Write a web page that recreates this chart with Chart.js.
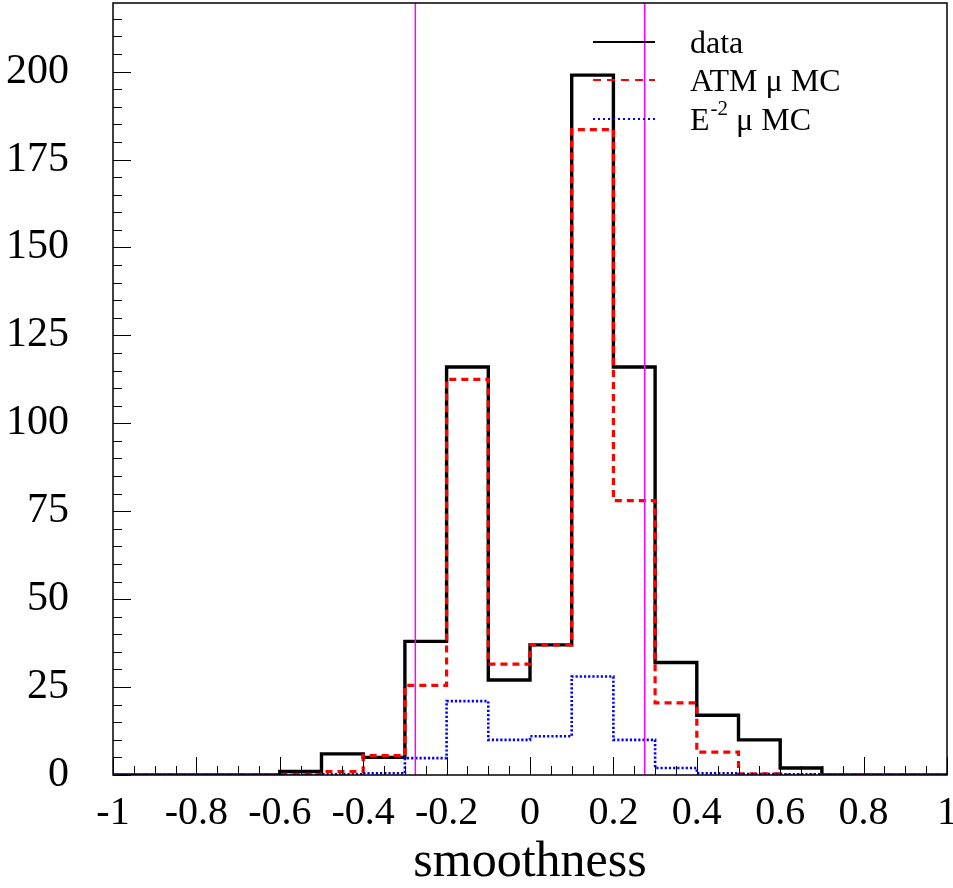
<!DOCTYPE html>
<html>
<head>
<meta charset="utf-8">
<script src="https://cdn.jsdelivr.net/npm/chart.js@4.4.1/dist/chart.umd.min.js"></script>
<style>
  html, body { margin: 0; padding: 0; background: #fff; }
  #wrap { width: 953px; height: 888px; }
</style>
</head>
<body>
<div id="wrap"><canvas id="histChart" width="953" height="888"></canvas></div>
<script>
// lower edges of the 20 bins (width 0.1)
var binLow = [-1, -0.9, -0.8, -0.7, -0.6, -0.5, -0.4, -0.3, -0.2, -0.1,
              0, 0.1, 0.2, 0.3, 0.4, 0.5, 0.6, 0.7, 0.8, 0.9];
var binWidth = 0.1;
var dataCounts = [0, 0, 0, 0, 1, 6, 5, 38, 116, 27, 37, 199, 116, 32, 17, 10, 2, 0, 0, 0];
var atmMC      = [0, 0, 0, 0, 0.2, 1, 5.5, 25.5, 112.5, 31.5, 37, 183.5, 78, 20.5, 6.5, 0.3, 0, 0, 0, 0];
var e2MC       = [0, 0, 0, 0, 0, 0.2, 0.5, 4.8, 21, 10, 11, 28, 10, 2, 0.5, 0.3, 0.2, 0, 0, 0];
var cutValues = [-0.275, 0.275];
var yTickStep = 25;
var xTickStep = 0.2;
var legendNames = ['data', 'ATM \u03bc MC', 'E\u207b\u00b2 \u03bc MC'];

var X_MIN = -1, X_MAX = 1, Y_MIN = 0, Y_MAX = 219.5;
var SERIF = "'Liberation Serif', 'DejaVu Serif', serif";

function histPoints(vals) {
    var pts = [];
    for (var i = 0; i < binLow.length; i++) pts.push({ x: binLow[i], y: vals[i] });
    pts.push({ x: binLow[binLow.length - 1] + binWidth, y: vals[vals.length - 1] });
    return pts;
}

function cutLine(v) {
    return {
        data: [{ x: v, y: Y_MIN }, { x: v, y: Y_MAX }],
        borderColor: '#ff00ff',
        borderWidth: 1.5,
        pointRadius: 0,
        fill: false
    };
}

function noPad(s) {
    s.paddingTop = 0;
    s.paddingBottom = 0;
    s.paddingLeft = 0;
    s.paddingRight = 0;
}

// frame, inward ticks (ROOT style) and legend
var frameAndLegend = {
    id: 'frameAndLegend',
    afterDraw: function (chart) {
        var ctx = chart.ctx;
        var a = chart.chartArea;
        var xs = chart.scales.x, ys = chart.scales.y;
        ctx.save();

        // ticks
        ctx.strokeStyle = '#000';
        ctx.lineWidth = 1;
        ctx.beginPath();
        for (var k = 0; k <= 40; k++) {
            var xv = X_MIN + k * 0.05;
            var px = Math.round(xs.getPixelForValue(xv)) + 0.5;
            var len = (k % 4 === 0) ? 18 : 9;
            ctx.moveTo(px, a.bottom);
            ctx.lineTo(px, a.bottom - len);
        }
        for (var j = 0; j * 5 <= Y_MAX; j++) {
            var py = Math.round(ys.getPixelForValue(j * 5)) + 0.5;
            var l2 = (j % 5 === 0) ? 18 : 9;
            ctx.moveTo(a.left, py);
            ctx.lineTo(a.left + l2, py);
        }
        ctx.stroke();

        // frame
        ctx.lineWidth = 1.5;
        ctx.strokeStyle = '#000';
        ctx.strokeRect(a.left, a.top, a.right - a.left, a.bottom - a.top);

        // legend
        var rows = [
            { y: 42, color: '#000', dash: [], width: 2 },
            { y: 80, color: '#ff0000', dash: [8, 6], width: 2 },
            { y: 119, color: '#0000ff', dash: [2, 3], width: 2 }
        ];
        var x0 = 593, x1 = 655, tx = 690;
        ctx.font = '32px ' + SERIF;
        ctx.fillStyle = '#000';
        ctx.textBaseline = 'alphabetic';
        ctx.textAlign = 'left';
        rows.forEach(function (r, i) {
            ctx.beginPath();
            ctx.setLineDash(r.dash);
            ctx.strokeStyle = r.color;
            ctx.lineWidth = r.width;
            ctx.moveTo(x0, r.y);
            ctx.lineTo(x1, r.y);
            ctx.stroke();
            ctx.setLineDash([]);
            var base = r.y + 11;
            if (i < 2) {
                ctx.fillText(legendNames[i], tx, base);
            } else {
                // E with superscript -2
                ctx.font = '32px ' + SERIF;
                ctx.fillText('E', tx, base);
                var w = ctx.measureText('E').width;
                ctx.font = '21px ' + SERIF;
                ctx.fillText('-2', tx + w + 1, base - 15);
                var w2 = ctx.measureText('-2').width;
                ctx.font = '32px ' + SERIF;
                ctx.fillText(' \u03bc MC', tx + w + w2 + 1, base);
            }
        });
        ctx.restore();
    }
};

new Chart(document.getElementById('histChart'), {
    type: 'line',
    data: {
        datasets: [
            cutLine(cutValues[0]),
            cutLine(cutValues[1]),
            {
                label: legendNames[2],
                data: histPoints(e2MC),
                borderColor: '#0000ff',
                borderWidth: 2.6,
                borderDash: [2.2, 2],
                stepped: true,
                pointRadius: 0,
                fill: false
            },
            {
                label: legendNames[1],
                data: histPoints(atmMC),
                borderColor: '#ff0000',
                borderWidth: 3.2,
                borderDash: [7, 5],
                stepped: true,
                pointRadius: 0,
                fill: false
            },
            {
                label: legendNames[0],
                data: histPoints(dataCounts),
                borderColor: '#000000',
                borderWidth: 3.4,
                stepped: true,
                pointRadius: 0,
                fill: false
            }
        ]
    },
    options: {
        responsive: false,
        animation: false,
        devicePixelRatio: 1,
        layout: { padding: { top: 3, right: 6, left: 0, bottom: 0 } },
        plugins: {
            legend: { display: false },
            tooltip: { enabled: false }
        },
        scales: {
            x: {
                type: 'linear',
                min: X_MIN,
                max: X_MAX,
                grid: { display: false, drawTicks: false },
                border: { display: false },
                ticks: {
                    stepSize: xTickStep,
                    autoSkip: false,
                    maxRotation: 0,
                    minRotation: 0,
                    padding: 14,
                    color: '#000',
                    font: { family: SERIF, size: 40 },
                    callback: function (v) { return String(Math.round(v * 10) / 10); }
                },
                title: {
                    display: true,
                    text: 'smoothness',
                    color: '#000',
                    font: { family: SERIF, size: 50, lineHeight: 1 },
                    padding: { top: 0, bottom: 0 }
                },
                afterFit: function (s) { s.height = 113; noPad(s); }
            },
            y: {
                type: 'linear',
                min: Y_MIN,
                max: Y_MAX,
                grid: { display: false, drawTicks: false },
                border: { display: false },
                ticks: {
                    stepSize: yTickStep,
                    includeBounds: false,
                    padding: 44,
                    color: '#000',
                    font: { family: SERIF, size: 42 }
                },
                afterFit: function (s) { s.width = 113; noPad(s); }
            }
        }
    },
    plugins: [frameAndLegend]
});
</script>
</body>
</html>
